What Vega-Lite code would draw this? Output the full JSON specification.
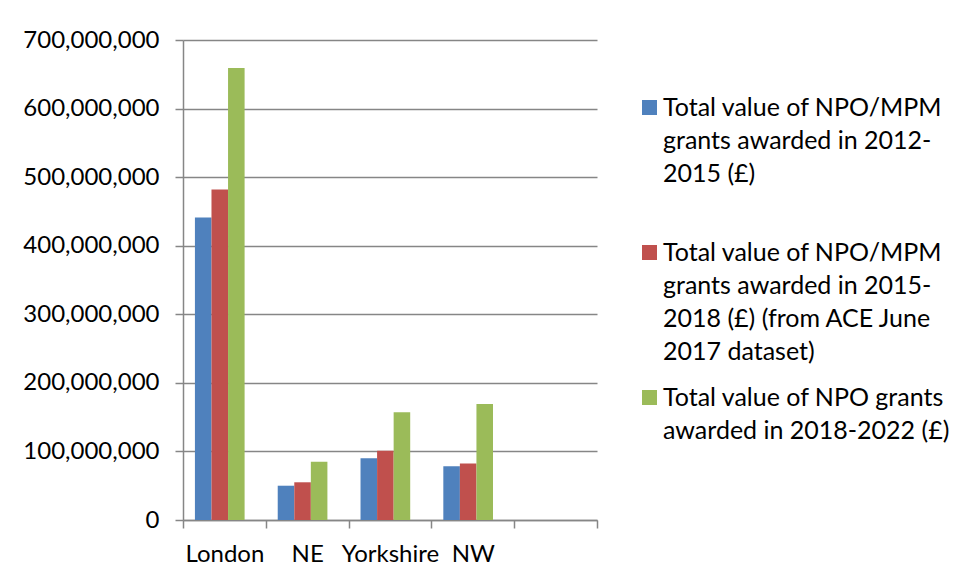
{
  "$schema": "https://vega.github.io/schema/vega-lite/v6.json",
  "width": 414,
  "height": 480,
  "autosize": {"type": "none"},
  "padding": {"left": 183, "top": 40, "right": 361, "bottom": 59},
  "background": "white",
  "config": {
    "view": {"stroke": null},
    "font": "Lato",
    "axis": {"labelFont": "Lato", "labelColor": "black", "labelFontSize": 24, "domainColor": "#868686", "tickColor": "#868686", "gridColor": "#868686", "domainWidth": 1.5, "tickWidth": 1.5, "gridWidth": 1.5}
  },
  "data": {
    "values": [
      {"region": "London", "series": "Total value of NPO/MPM grants awarded in 2012-2015 (£)", "value": 441000000},
      {"region": "London", "series": "Total value of NPO/MPM grants awarded in 2015-2018 (£) (from ACE June 2017 dataset)", "value": 482000000},
      {"region": "London", "series": "Total value of NPO grants awarded in 2018-2022 (£)", "value": 659000000},
      {"region": "NE", "series": "Total value of NPO/MPM grants awarded in 2012-2015 (£)", "value": 50000000},
      {"region": "NE", "series": "Total value of NPO/MPM grants awarded in 2015-2018 (£) (from ACE June 2017 dataset)", "value": 55000000},
      {"region": "NE", "series": "Total value of NPO grants awarded in 2018-2022 (£)", "value": 85000000},
      {"region": "Yorkshire", "series": "Total value of NPO/MPM grants awarded in 2012-2015 (£)", "value": 90000000},
      {"region": "Yorkshire", "series": "Total value of NPO/MPM grants awarded in 2015-2018 (£) (from ACE June 2017 dataset)", "value": 101000000},
      {"region": "Yorkshire", "series": "Total value of NPO grants awarded in 2018-2022 (£)", "value": 157000000},
      {"region": "NW", "series": "Total value of NPO/MPM grants awarded in 2012-2015 (£)", "value": 78500000},
      {"region": "NW", "series": "Total value of NPO/MPM grants awarded in 2015-2018 (£) (from ACE June 2017 dataset)", "value": 82500000},
      {"region": "NW", "series": "Total value of NPO grants awarded in 2018-2022 (£)", "value": 169000000}
    ]
  },
  "mark": {"type": "bar"},
  "encoding": {
    "x": {
      "field": "region",
      "type": "nominal",
      "scale": {"domain": ["London", "NE", "Yorkshire", "NW", ""], "paddingInner": 0, "paddingOuter": 0},
      "axis": {"title": null, "labelAngle": 0, "tickBand": "extent", "tickSize": 8, "labelPadding": 14, "grid": false, "labelBaseline": "top"}
    },
    "xOffset": {
      "field": "series",
      "type": "nominal",
      "sort": null,
      "scale": {"paddingInner": 0, "paddingOuter": 1.267, "align": 0.36}
    },
    "y": {
      "field": "value",
      "type": "quantitative",
      "scale": {"domain": [0, 700000000], "nice": false},
      "axis": {"title": null, "values": [0, 100000000, 200000000, 300000000, 400000000, 500000000, 600000000, 700000000], "format": ",d", "tickSize": 8, "labelPadding": 16, "grid": true}
    },
    "color": {
      "field": "series",
      "type": "nominal",
      "sort": null,
      "scale": {"range": ["#4F81BD", "#C0504D", "#9BBB59"]},
      "legend": {
        "title": null,
        "orient": "none",
        "legendX": 454,
        "legendY": 55,
        "symbolType": "square",
        "symbolSize": 225,
        "symbolStrokeWidth": 0,
        "labelFont": "Lato",
        "labelFontSize": 25,
        "labelColor": "black",
        "labelLimit": 400,
        "labelOffset": 1,
        "rowPadding": 20,
        "labelExpr": "indexof(datum.label, '2012-2015') >= 0 ? ['Total value of NPO/MPM', 'grants awarded in 2012-', '2015 (£)', ' '] : indexof(datum.label, '2015-2018') >= 0 ? ['Total value of NPO/MPM', 'grants awarded in 2015-', '2018 (£) (from ACE June', '2017 dataset)'] : ['Total value of NPO grants', 'awarded in 2018-2022 (£)']",
        "encode": {"labels": {"update": {"lineHeight": {"value": 33}}}}
      }
    }
  }
}
